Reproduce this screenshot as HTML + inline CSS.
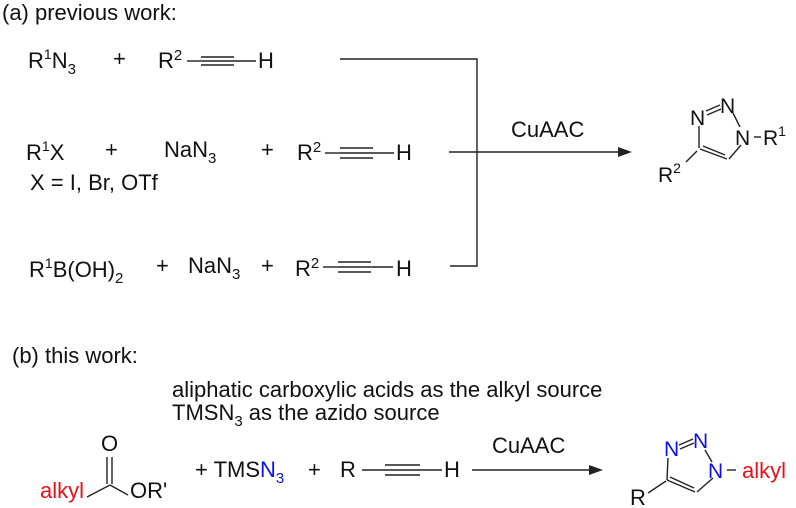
<!DOCTYPE html>
<html><head><meta charset="utf-8"><style>
html,body{margin:0;padding:0;background:#fff;}
svg{display:block;font-family:"Liberation Sans",Arial,sans-serif;}
</style></head><body>
<svg width="796" height="508" viewBox="0 0 796 508" xmlns="http://www.w3.org/2000/svg" font-size="22" fill="#111">
<g stroke="#222" stroke-width="1.4" fill="none">
<line x1="187" y1="61" x2="201" y2="61"/><line x1="201" y1="57" x2="234" y2="57"/><line x1="201" y1="61" x2="234" y2="61"/><line x1="201" y1="65" x2="234" y2="65"/><line x1="234" y1="61" x2="256" y2="61"/>
<line x1="325" y1="153" x2="340" y2="153"/><line x1="340" y1="148" x2="373" y2="148"/><line x1="340" y1="153" x2="373" y2="153"/><line x1="340" y1="158" x2="373" y2="158"/><line x1="373" y1="153" x2="394" y2="153"/>
<line x1="323" y1="267" x2="338" y2="267"/><line x1="338" y1="262" x2="371" y2="262"/><line x1="338" y1="267" x2="371" y2="267"/><line x1="338" y1="272" x2="371" y2="272"/><line x1="371" y1="267" x2="393" y2="267"/>
<polyline points="340,59 477,59 477,266 450,266"/>
<line x1="449" y1="152" x2="622" y2="152"/>
<!-- triazole a -->
<line x1="706" y1="111" x2="720" y2="105"/><line x1="707" y1="115" x2="721" y2="109"/>
<line x1="733" y1="113" x2="740" y2="127"/>
<line x1="741" y1="145" x2="729" y2="159"/>
<line x1="727" y1="159" x2="700" y2="149"/><line x1="725" y1="155" x2="703" y2="146"/>
<line x1="699" y1="148" x2="699" y2="126"/>
<line x1="697" y1="151" x2="686" y2="162"/>
<line x1="754" y1="137" x2="761" y2="137"/>
<!-- ester -->
<line x1="87" y1="497" x2="110" y2="485"/><line x1="110" y1="485" x2="128" y2="495"/>
<line x1="107" y1="484" x2="107" y2="457"/><line x1="112" y1="484" x2="112" y2="457"/>
<!-- b alkyne -->
<line x1="362" y1="470" x2="385" y2="470"/><line x1="385" y1="465" x2="420" y2="465"/><line x1="385" y1="470" x2="420" y2="470"/><line x1="385" y1="475" x2="420" y2="475"/><line x1="420" y1="470" x2="442" y2="470"/>
<line x1="472" y1="470" x2="593" y2="470"/>
<!-- triazole b -->
<line x1="679" y1="445" x2="693" y2="439"/><line x1="680" y1="449" x2="694" y2="443"/>
<line x1="705" y1="450" x2="712" y2="462"/>
<line x1="713" y1="478" x2="697" y2="492"/>
<line x1="695" y1="492" x2="667" y2="480"/><line x1="694" y1="488" x2="670" y2="477"/>
<line x1="667" y1="480" x2="668" y2="458"/>
<line x1="666" y1="481" x2="648" y2="493"/>
<line x1="727" y1="470" x2="736" y2="470"/>
</g>
<polygon points="632,152 618,147 618,157" fill="#222"/>
<polygon points="603,470 589,465 589,475" fill="#222"/>
<text x="2" y="20">(a) previous work:</text>
<text x="28" y="68">R<tspan font-size="14" dy="-9">1</tspan><tspan dy="9">N</tspan><tspan font-size="15" dy="6">3</tspan></text>
<text x="113" y="66">+</text>
<text x="158" y="68">R<tspan font-size="15" dy="-8">2</tspan></text>
<text x="258" y="68">H</text>
<text x="26" y="160">R<tspan font-size="14" dy="-9">1</tspan><tspan dy="9">X</tspan></text>
<text x="105" y="157">+</text>
<text x="164" y="157">NaN<tspan font-size="15" dy="6">3</tspan></text>
<text x="261" y="157">+</text>
<text x="297" y="160">R<tspan font-size="15" dy="-8">2</tspan></text>
<text x="396" y="160">H</text>
<text x="30" y="190">X = I, Br, OTf</text>
<text x="29" y="277">R<tspan font-size="14" dy="-9">1</tspan><tspan dy="9">B(OH)</tspan><tspan font-size="15" dy="6">2</tspan></text>
<text x="156" y="273">+</text>
<text x="188" y="273">NaN<tspan font-size="15" dy="6">3</tspan></text>
<text x="261" y="273">+</text>
<text x="295" y="276">R<tspan font-size="15" dy="-8">2</tspan></text>
<text x="396" y="276">H</text>
<text x="511" y="137">CuAAC</text>
<text x="690" y="125" font-size="21">N</text>
<text x="720" y="113" font-size="21">N</text>
<text x="735" y="145" font-size="21">N</text>
<text x="763" y="145" font-size="21">R<tspan font-size="14" dy="-9">1</tspan></text>
<text x="658" y="182" font-size="21">R<tspan font-size="14" dy="-9">2</tspan></text>
<text x="12" y="363">(b) this work:</text>
<text x="172" y="397">aliphatic carboxylic acids as the alkyl source</text>
<text x="172" y="420">TMSN<tspan font-size="15" dy="6">3</tspan><tspan dy="-6"> as the azido source</tspan></text>
<text x="101" y="451">O</text>
<text x="40" y="498" fill="#e8101a">alkyl</text>
<text x="130" y="498">OR'</text>
<text x="195" y="477">+ TMS<tspan fill="#1010e0">N</tspan><tspan fill="#1010e0" font-size="15" dy="6">3</tspan></text>
<text x="308" y="477">+</text>
<text x="340" y="477">R</text>
<text x="444" y="477">H</text>
<text x="492" y="453">CuAAC</text>
<text x="664" y="456" fill="#1010e0" font-size="21">N</text>
<text x="693" y="448" fill="#1010e0" font-size="21">N</text>
<text x="708" y="478" fill="#1010e0" font-size="21">N</text>
<text x="742" y="478" fill="#e8101a">alkyl</text>
<text x="630" y="505">R</text>
</svg>
</body></html>
